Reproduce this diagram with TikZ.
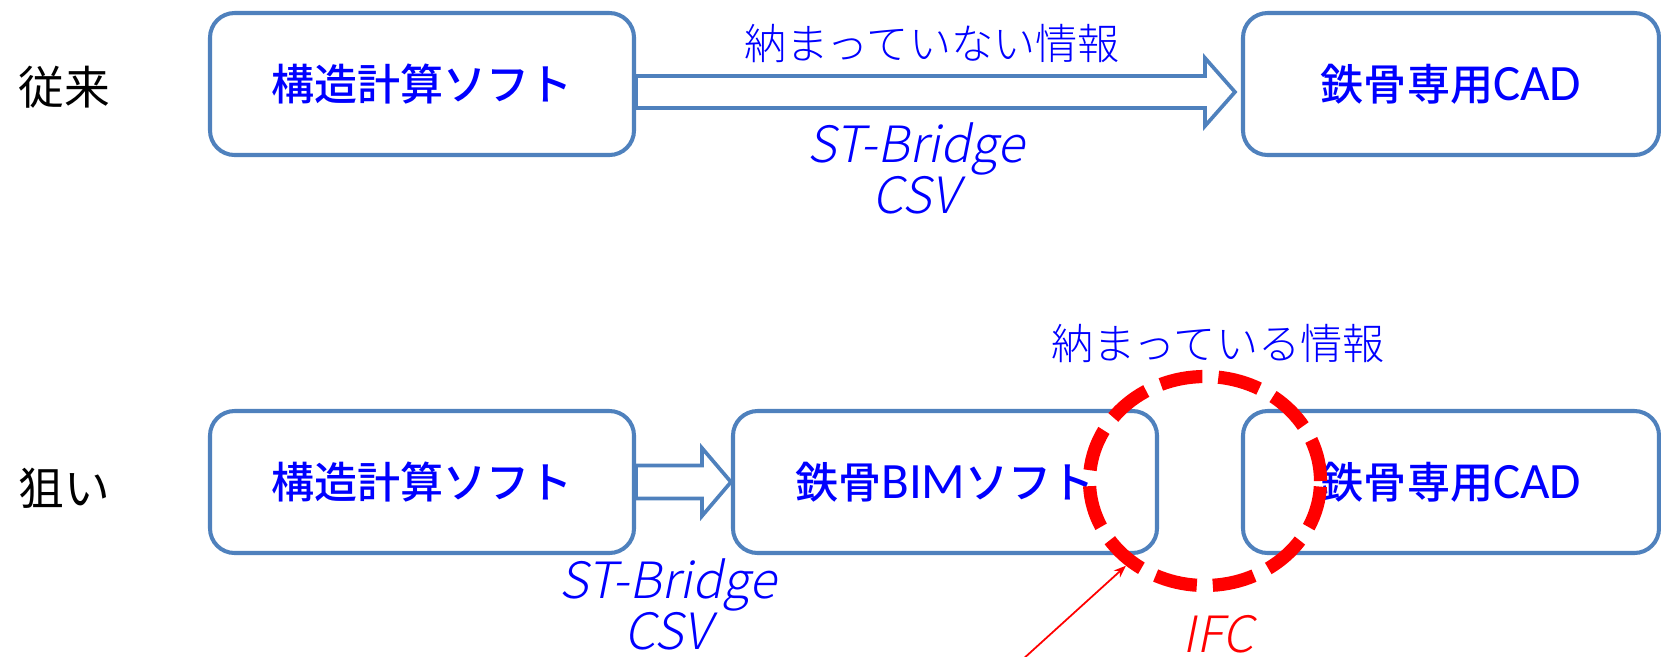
\documentclass[tikz,border=0pt]{standalone}
\usepackage{fontspec}
\setmainfont{Noto Sans CJK JP}
\newfontfamily\jpmed{Noto Sans CJK JP Medium}
\newfontfamily\jplight{Noto Sans CJK JP Light}
\newfontfamily\jpslant{Noto Sans CJK JP Light}[FakeSlant=0.2]
\newfontfamily\calibri{Carlito}
\newcommand\latin[1]{{\calibri\fontsize{29}{30}\selectfont #1}}
\usetikzlibrary{arrows.meta,positioning,calc,shapes.geometric}
\definecolor{boxEdge}{RGB}{79,129,189}
\definecolor{txtBlue}{RGB}{0,0,255}
\definecolor{ifcRed}{RGB}{255,0,0}

\begin{document}
\begin{tikzpicture}[
    box/.style={rectangle, rounded corners=14pt, draw=boxEdge, line width=2.3pt, fill=white,
                minimum height=2.84cm, minimum width=8.48cm, text=txtBlue,
                font=\jpmed\fontsize{24.5}{28}\selectfont},
    hollow/.style={draw=boxEdge, line width=2.1pt, fill=white, line join=miter},
    side/.style={font=\fontsize{26}{30}\selectfont},
    note/.style={text=txtBlue, font=\jplight\fontsize{24}{28}\selectfont},
    fmt/.style={align=center, font=\jpslant\fontsize{28.5}{29}\selectfont},
    ring/.style={ellipse, draw=ifcRed, line width=7.5pt, dash pattern=on 0.85cm off 0.32cm,
                 minimum width=4.62cm, minimum height=4.18cm},
    pointer/.style={-{Stealth[length=7pt]}, ifcRed, line width=1pt}]

    \useasboundingbox (0,0) rectangle (33.22,-13.12);

    % Row labels
    \node[side] (conv) at (1.28,-1.74) {従来};
    \node[side] (aim) at (1.28,-9.76) {狙い};

    % Upper row
    \node[box] (keisanA) at (8.44,-1.68) {構造計算ソフト};
    \node[box, minimum width=8.32cm] (cadA) at (29.02,-1.68) {鉄骨専用\latin{CAD}};

    \draw[hollow] ($(keisanA.east)+(0,0.16)$) -- ($(cadA.west)+(-0.72,0.16)$)
      -- ($(cadA.west)+(-0.72,0.52)$) -- ($(cadA.west)+(-0.12,-0.16)$)
      -- ($(cadA.west)+(-0.72,-0.84)$) -- ($(cadA.west)+(-0.72,-0.48)$)
      -- ($(keisanA.east)+(0,-0.48)$) -- cycle;

    \node[note] (loose) at (18.64,-0.88) {納まっていない情報};
    \node[fmt, text=txtBlue] (fmtA) at (18.32,-3.37) {ST-Bridge\\CSV};

    % Lower row
    \node[box] (keisanB) at (8.44,-9.64) {構造計算ソフト};
    \node[box] (bimB) at (18.9,-9.64) {鉄骨\latin{BIM}ソフト};
    \node[box, minimum width=8.32cm] (cadB) at (29.02,-9.64) {鉄骨専用\latin{CAD}};

    \draw[hollow] ($(keisanB.east)+(0,0.33)$) -- ($(bimB.west)+(-0.58,0.33)$)
      -- ($(bimB.west)+(-0.58,0.68)$) -- (bimB.west)
      -- ($(bimB.west)+(-0.58,-0.68)$) -- ($(bimB.west)+(-0.58,-0.33)$)
      -- ($(keisanB.east)+(0,-0.33)$) -- cycle;

    \node[fmt, text=txtBlue] (fmtB) at (13.36,-12.08) {ST-Bridge\\CSV};
    \node[note] (tight) at (24.36,-6.88) {納まっている情報};

    % IFC hand-over
    \node[ring] (ifcring) at (24.1,-9.62) {};
    \node[fmt, text=ifcRed] (ifc) at (24.36,-12.68) {IFC};
    \coordinate (ptr) at (20.44,-13.2);
    \draw[pointer] (ptr) -- (ifcring.227);

\end{tikzpicture}
\end{document}
